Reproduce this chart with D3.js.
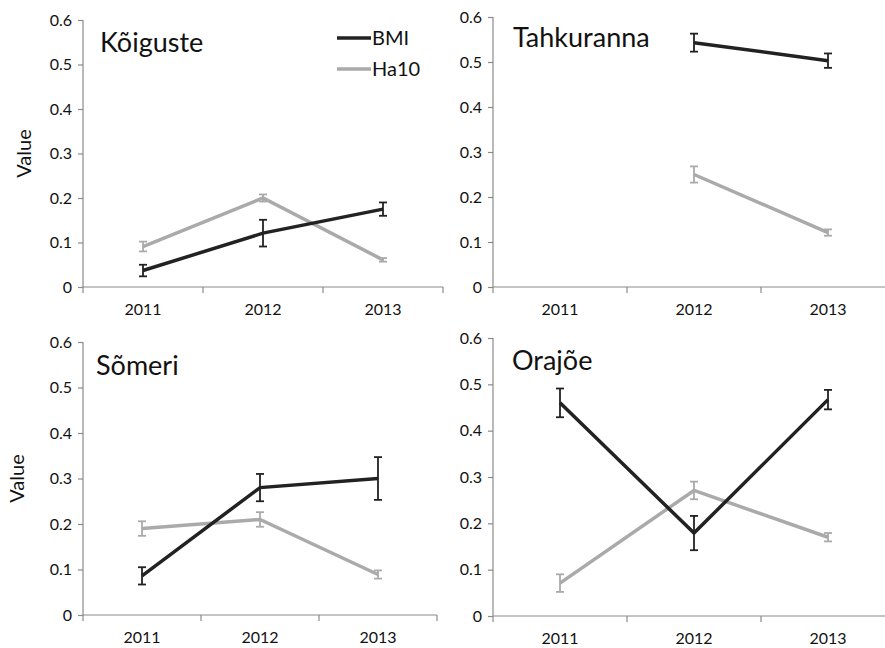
<!DOCTYPE html>
<html>
<head>
<meta charset="utf-8">
<script src="https://cdn.jsdelivr.net/npm/d3@7"></script>
<style>
html,body{margin:0;padding:0;background:#fff;}
svg{display:block;font-family:Lato,"Open Sans",sans-serif;}
</style>
</head>
<body>
<svg id="chart" width="885" height="648"></svg>
<script>
// ---- data ----
const years = ["2011", "2012", "2013"];
const sites = ["Kõiguste", "Tahkuranna", "Sõmeri", "Orajõe"];
const seriesNames = ["BMI", "Ha10"];
const bmiMean = [[0.037, 0.121, 0.175], [null, 0.543, 0.503], [0.086, 0.280, 0.300], [0.460, 0.179, 0.467]];
const bmiErr  = [[0.013, 0.030, 0.015], [null, 0.020, 0.016], [0.019, 0.030, 0.047], [0.031, 0.037, 0.021]];
const ha10Mean = [[0.091, 0.200, 0.061], [null, 0.250, 0.121], [0.190, 0.210, 0.089], [0.071, 0.271, 0.170]];
const ha10Err  = [[0.011, 0.008, 0.004], [null, 0.018, 0.007], [0.016, 0.016, 0.009], [0.019, 0.019, 0.009]];
const yTicks = [0, 0.1, 0.2, 0.3, 0.4, 0.5, 0.6];
const yLabel = "Value";

// ---- layout ----
const panels = [
  {x0: 83,  x1: 443, yTop: 20,  yBot: 287, tx: 100, ty: 52,  showY: true,  lx: 24, legend: true},
  {x0: 493, x1: 895, yTop: 17,  yBot: 287, tx: 513, ty: 47,  showY: false},
  {x0: 83,  x1: 437, yTop: 342, yBot: 615, tx: 96,  ty: 375, showY: true,  lx: 17},
  {x0: 493, x1: 895, yTop: 338, yBot: 616, tx: 512, ty: 370, showY: false}
];
const colors = {BMI: "#222222", Ha10: "#aaaaaa"};
const axisColor = "#8a8a8a";

const svg = d3.select("#chart");

panels.forEach((p, i) => {
  const x = d3.scaleBand().domain(years).range([p.x0, p.x1]);
  const y = d3.scaleLinear().domain([0, 0.6]).range([p.yBot, p.yTop]);
  const g = svg.append("g");

  // y axis
  const ya = g.append("g").attr("transform", `translate(${p.x0},0)`)
    .call(d3.axisLeft(y).tickValues(yTicks).tickSize(5).tickPadding(6)
      .tickFormat(d => d === 0 ? "0" : d3.format(".1f")(d)));
  // x axis
  const xa = g.append("g").attr("transform", `translate(0,${p.yBot})`)
    .call(d3.axisBottom(x).tickSize(0).tickPadding(17));
  // category boundary ticks
  const bounds = [p.x0].concat(years.map(yv => x(yv) + x.bandwidth()));
  g.selectAll("line.bt").data(bounds).enter().append("line")
    .attr("x1", d => d).attr("x2", d => d)
    .attr("y1", p.yBot).attr("y2", p.yBot + 6)
    .attr("stroke", axisColor).attr("stroke-width", 1.2);

  [ya, xa].forEach(a => {
    a.select(".domain").attr("stroke", axisColor).attr("stroke-width", 1.2);
    a.selectAll(".tick line").attr("stroke", axisColor).attr("stroke-width", 1.2);
    a.selectAll("text").attr("fill", "#111").style("font-size", "16px")
      .style("font-family", "Lato, sans-serif");
  });
  ya.select(".domain").attr("d", `M0,${p.yTop}V${p.yBot}`);
  xa.select(".domain").attr("d", `M${p.x0},0H${p.x1}`);

  // y label
  if (p.showY) {
    g.append("text")
      .attr("transform", `translate(${p.lx},${(p.yTop + p.yBot) / 2}) rotate(-90)`)
      .attr("text-anchor", "middle").attr("dy", "0.35em")
      .style("font-size", "20px").attr("fill", "#111").text(yLabel);
  }

  // title
  g.append("text").attr("x", p.tx).attr("y", p.ty)
    .style("font-size", "27px").attr("fill", "#111").text(sites[i]);

  const series = [
    {name: "BMI", mean: bmiMean[i], err: bmiErr[i]},
    {name: "Ha10", mean: ha10Mean[i], err: ha10Err[i]}
  ];
  [series[1], series[0]].forEach(s => {
    const pts = years.map((yr, j) => ({yr, v: s.mean[j], e: s.err[j]})).filter(d => d.v != null);
    const cx = d => x(d.yr) + x.bandwidth() / 2;
    const line = d3.line().x(cx).y(d => y(d.v));
    g.append("path").datum(pts).attr("d", line)
      .attr("fill", "none").attr("stroke", colors[s.name]).attr("stroke-width", 3.5)
      .attr("stroke-linejoin", "miter");
    const eb = g.selectAll(null).data(pts).enter().append("g");
    const cap = 4;
    eb.append("line")
      .attr("x1", cx).attr("x2", cx)
      .attr("y1", d => y(d.v - d.e)).attr("y2", d => y(d.v + d.e));
    eb.append("line")
      .attr("x1", d => cx(d) - cap).attr("x2", d => cx(d) + cap)
      .attr("y1", d => y(d.v - d.e)).attr("y2", d => y(d.v - d.e));
    eb.append("line")
      .attr("x1", d => cx(d) - cap).attr("x2", d => cx(d) + cap)
      .attr("y1", d => y(d.v + d.e)).attr("y2", d => y(d.v + d.e));
    eb.selectAll("line").attr("stroke", colors[s.name]).attr("stroke-width", 1.8);
  });

  // legend
  if (p.legend) {
    const lg = g.append("g");
    seriesNames.forEach((n, k) => {
      const ly = 38 + k * 31;
      lg.append("line").attr("x1", 337).attr("x2", 371).attr("y1", ly).attr("y2", ly)
        .attr("stroke", colors[n]).attr("stroke-width", 3.5);
      lg.append("text").attr("x", 372).attr("y", ly).attr("dy", "0.36em")
        .style("font-size", "20px").attr("fill", "#111").text(n);
    });
  }
});
</script>
</body>
</html>
